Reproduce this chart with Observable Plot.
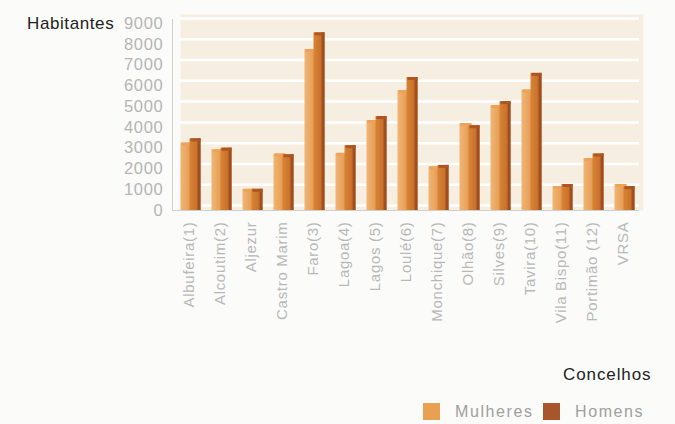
<!DOCTYPE html>
<html><head><meta charset="utf-8">
<script src="https://cdn.jsdelivr.net/npm/d3@7"></script>
<script src="https://cdn.jsdelivr.net/npm/@observablehq/plot@0.6"></script>
<style>
body{margin:0;background:#fbfbf9;font-family:"Liberation Sans",Arial,sans-serif;}
#wrap{position:relative;width:675px;height:424px;overflow:hidden;}
.t{position:absolute;white-space:nowrap;line-height:1;}
.sw{position:absolute;width:17px;height:17px;}
</style></head><body><div id="wrap"></div>
<script>
const concelhos = ["Albufeira(1)","Alcoutim(2)","Aljezur","Castro Marim","Faro(3)","Lagoa(4)","Lagos (5)","Loulé(6)","Monchique(7)","Olhão(8)","Silves(9)","Tavira(10)","Vila Bispo(11)","Portimão (12)","VRSA"];
const mulheres = [3250, 2920, 1020, 2720, 7750, 2750, 4330, 5770, 2100, 4180, 5050, 5800, 1150, 2500, 1250];
const homens   = [3450, 3000, 1020, 2680, 8550, 3120, 4520, 6400, 2170, 4080, 5240, 6600, 1250, 2720, 1150];
const yTicks = d3.range(0, 9001, 1000);

const rows = concelhos.map((c, i) => ({concelho: c, mulheres: mulheres[i], homens: homens[i]}));

const W = 675, H = 424, ML = 172, MR = 36, MT = 23, MB = 214;
const bw = (W - ML - MR) / concelhos.length;

const defs = (index, scales, values, dims) => {
  const g = d3.create("svg:g");
  g.html(`<defs>
    <linearGradient id="gM" x1="0" x2="1" y1="0" y2="0">
      <stop offset="0" stop-color="#f0b574"/><stop offset="0.6" stop-color="#e9a35d"/><stop offset="1" stop-color="#dc8f48"/>
    </linearGradient>
    <linearGradient id="gH" x1="0" x2="1" y1="0" y2="0">
      <stop offset="0" stop-color="#d88535"/><stop offset="0.7" stop-color="#c8702c"/><stop offset="1" stop-color="#b55f22"/>
    </linearGradient>
  </defs>`);
  g.append("line")
    .attr("x1", dims.marginLeft + 0.5).attr("x2", dims.marginLeft + 0.5)
    .attr("y1", dims.marginTop - 4).attr("y2", dims.height - dims.marginBottom)
    .attr("stroke", "#cfcfcf");
  return g.node();
};

const chart = Plot.plot({
  width: W, height: H,
  marginLeft: ML, marginRight: MR, marginTop: MT, marginBottom: MB,
  style: {background: "transparent", fontFamily: "Liberation Sans, Arial, sans-serif", letterSpacing: "0.7px"},
  x: {domain: concelhos, padding: 0, label: null},
  y: {domain: [0, 9000], label: null},
  marks: [
    defs,
    Plot.frame({fill: "#f6efe1", stroke: null, insetLeft: 8, insetTop: -9, insetRight: -4}),
    Plot.gridY(yTicks, {stroke: "#ffffff", strokeOpacity: 1, strokeWidth: 2.5, dy: -5, insetLeft: 8}),
    Plot.axisY({ticks: yTicks, tickFormat: d => String(d), tickSize: 0, tickPadding: 9, fontSize: 16.5, fill: "#b5b5b5", label: null}),
    Plot.axisX({tickSize: 0, tickPadding: 11, tickRotate: -90, fontSize: 15, fill: "#b8b8b8", label: null}),
    Plot.barY(rows, {x: "concelho", y: "mulheres", fill: "url(#gM)", insetLeft: 7.5, insetRight: bw - 19.5}),
    Plot.tickY(rows, {x: "concelho", y: "mulheres", stroke: "#eda258", strokeWidth: 3, insetLeft: 8.5, insetRight: bw - 19.5, dy: 1}),
    Plot.barY(rows, {x: "concelho", y: "homens", fill: "url(#gH)", insetLeft: 16.5, insetRight: 3.5}),
    Plot.barY(rows, {x: "concelho", y: "homens", fill: "#9e4e1f", insetLeft: bw - 6.5, insetRight: 3.5}),
    Plot.tickY(rows, {x: "concelho", y: "homens", stroke: "#ad5621", strokeWidth: 3, insetLeft: 17.5, insetRight: 3.5, dy: 1}),
    Plot.ruleY([0], {stroke: "#cfcfcf"})
  ]
});

const wrap = document.getElementById("wrap");
wrap.appendChild(chart);
chart.style.position = "absolute"; chart.style.left = "0"; chart.style.top = "0";

function addText(txt, x, y, size, color, ls) {
  const d = document.createElement("div");
  d.className = "t"; d.textContent = txt;
  d.style.left = x + "px"; d.style.top = y + "px";
  d.style.fontSize = size + "px"; d.style.color = color;
  d.style.letterSpacing = ls + "px";
  wrap.appendChild(d);
}
function addSwatch(x, y, color) {
  const d = document.createElement("div");
  d.className = "sw"; d.style.left = x + "px"; d.style.top = y + "px"; d.style.background = color;
  wrap.appendChild(d);
}
addText("Habitantes", 27, 15, 17, "#222", 0.6);
addText("Concelhos", 563, 366, 17, "#222", 0.9);
addSwatch(423, 403, "#e9a050");
addText("Mulheres", 455, 404, 16, "#a0a0a0", 1.6);
addSwatch(543, 403, "#a8552c");
addText("Homens", 575, 404, 16, "#a0a0a0", 1.6);
</script>
</body></html>
